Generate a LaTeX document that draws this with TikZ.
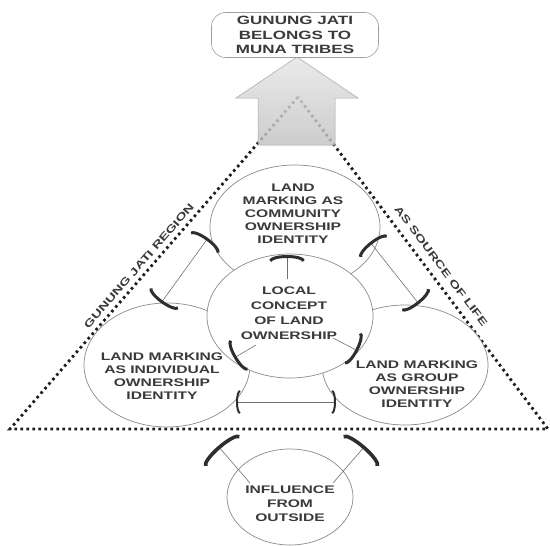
\documentclass[tikz,border=0pt]{standalone}
\usepackage{fontspec}
\newfontfamily\labfont{Liberation Sans}[FakeStretch=1.42]
\usetikzlibrary{arrows.meta,shapes.geometric}
\definecolor{tc}{HTML}{3A3A3A}
\definecolor{ec}{HTML}{8A8A8A}
\definecolor{lc}{HTML}{707070}
\definecolor{tipc}{HTML}{2E2E2E}
\definecolor{dotc}{HTML}{1E1E1E}
\tikzset{
  BigBar/.tip={Arc Barb[length=6pt,width=36pt,line width=3pt,color=tipc]},
  SmallBar/.tip={Arc Barb[length=4pt,width=24pt,line width=2pt,color=tipc]},
  HugeBar/.tip={Arc Barb[length=7pt,width=48pt,line width=3.6pt,color=tipc]},
  ell/.style={ellipse, draw=ec, line width=0.7pt, fill=white, inner sep=0pt},
  lab/.style={text=tc, font=\labfont\bfseries\fontsize{11}{13}\selectfont, align=center, inner sep=0pt},
  side/.style={text=tc, font=\labfont\bfseries\fontsize{10.3}{12}\selectfont, inner sep=0pt},
  dots/.style={draw=dotc, line width=2.8pt, dash pattern=on 2.6pt off 3.4pt},
  link/.style={draw=lc, line width=0.6pt},
}
\begin{document}
\begin{tikzpicture}[x=1pt,y=-1pt]
\useasboundingbox (0,0) rectangle (550,546);
% region triangle
\coordinate (apex) at (298,97);
\coordinate (bl) at (10,429);
\coordinate (br) at (548,429);
\draw[dots] (apex) -- (bl) -- (br) -- cycle;
% big arrow
\shade[top color=gray!20, bottom color=gray!48, draw=gray!70, line width=0.5pt, fill opacity=0.82]
  (258,145) -- (258,98) -- (236,98) -- (297,57) -- (358,98) -- (335,98) -- (335,145) -- cycle;
% top box
\node[draw=gray!75, line width=0.6pt, fill=white, rounded corners=14pt, minimum width=167pt, minimum height=45pt,
      text=tc, font=\labfont\bfseries\fontsize{12}{14.5}\selectfont, align=center, inner sep=0pt]
  (top) at (295,35) {GUNUNG JATI\\BELONGS TO\\MUNA TRIBES};
% ellipses
\node[ell, minimum width=170pt, minimum height=124pt] (commE) at (295,227) {};
\node[ell, minimum width=166pt, minimum height=124pt] (indE) at (167,365) {};
\node[ell, minimum width=166pt, minimum height=120pt] (grpE) at (405,365) {};
\node[ell, minimum width=166pt, minimum height=124pt] (locE) at (290,316) {};
\node[ell, minimum width=126pt, minimum height=96pt] (infE) at (290,497) {};
% connector end points
\coordinate (c1a) at (287,279); \coordinate (c1b) at (287,255);
\coordinate (ci1) at (208,238); \coordinate (ci2) at (161,303);
\coordinate (cg1) at (370,242); \coordinate (cg2) at (419,304);
\coordinate (li1) at (256,345); \coordinate (li2) at (234,358);
\coordinate (lg1) at (333,338); \coordinate (lg2) at (358,351);
\coordinate (ig1) at (236,402); \coordinate (ig2) at (336,402);
\coordinate (fi1) at (250,483); \coordinate (fi2) at (218,446);
\coordinate (fg1) at (333,483); \coordinate (fg2) at (365,446);
% connectors
\draw[link, -BigBar] (c1a) -- (c1b);
\draw[link, BigBar-BigBar] (ci1) -- (ci2);
\draw[link, BigBar-BigBar] (cg1) -- (cg2);
\draw[link, -BigBar] (li1) -- (li2);
\draw[link, -BigBar] (lg1) -- (lg2);
\draw[link, SmallBar-SmallBar] (ig1) -- (ig2);
\draw[link, -HugeBar] (fi1) -- (fi2);
\draw[link, -HugeBar] (fg1) -- (fg2);
% texts
\node[lab] (commT) at (293,214) {LAND\\MARKING AS\\COMMUNITY\\OWNERSHIP\\IDENTITY};
\node[lab, font=\labfont\bfseries\fontsize{11}{15}\selectfont] (locT) at (289,313) {LOCAL\\CONCEPT\\OF LAND\\OWNERSHIP};
\node[lab] (indT) at (162,376) {LAND MARKING\\AS INDIVIDUAL\\OWNERSHIP\\IDENTITY};
\node[lab] (grpT) at (417,384) {LAND MARKING\\AS GROUP\\OWNERSHIP\\IDENTITY};
\node[lab, font=\labfont\bfseries\fontsize{11}{14}\selectfont] (infT) at (290,504) {INFLUENCE\\FROM\\OUTSIDE};
\node[side, rotate=49] (regT) at (139,266) {GUNUNG JATI REGION};
\node[side, rotate=-53] (lifeT) at (441,266) {AS SOURCE OF LIFE};
\end{tikzpicture}
\end{document}
